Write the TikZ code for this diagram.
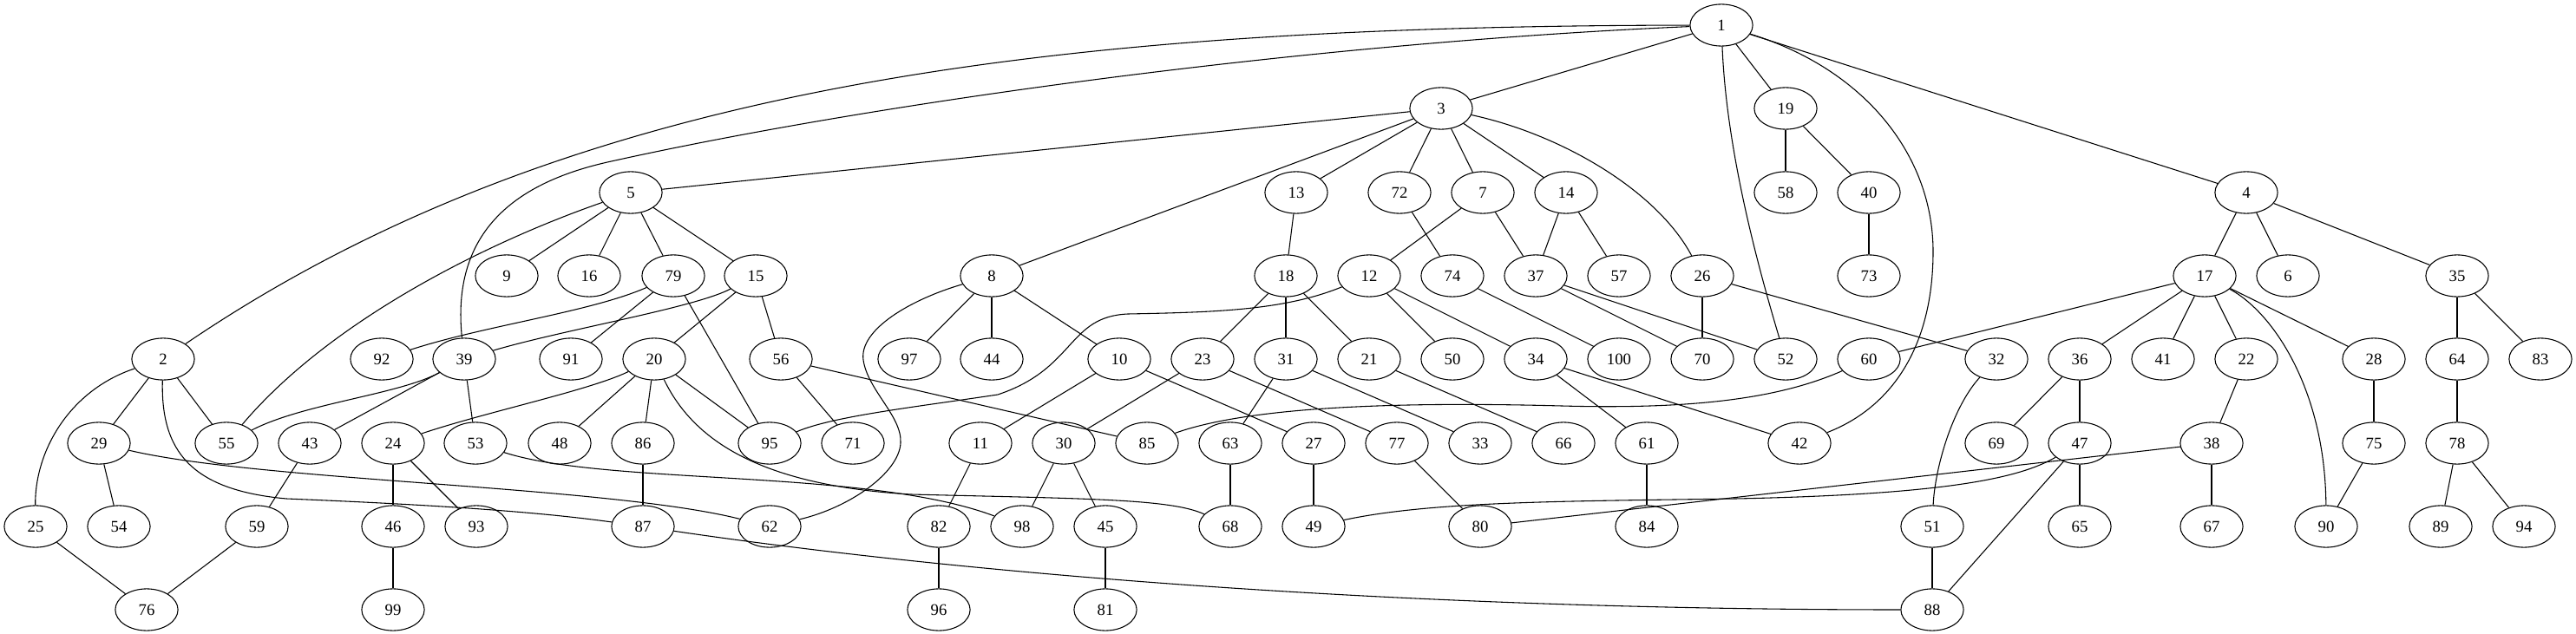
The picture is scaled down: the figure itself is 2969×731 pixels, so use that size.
\documentclass[tikz,border=0pt]{standalone}
\usepackage{fontspec}
\setmainfont{Liberation Serif}
\usetikzlibrary{shapes.geometric}
\begin{document}
\begin{tikzpicture}[x=0.74766pt,y=-0.74766pt,
  vtx/.style={ellipse,draw,line width=0.8pt,minimum width=54pt,minimum height=36pt,inner sep=0pt,font=\fontsize{14}{16}\selectfont},
  edge/.style={line width=0.8pt}]
\useasboundingbox (0,0) rectangle (2969,731);
% row 0
\node[vtx] (n1) at (1984,29) {1};
% row 1
\foreach \n/\x in {3/1661,19/2058} \node[vtx] (n\n) at (\x,125) {\n};
% row 2
\foreach \n/\x in {5/727,13/1494,72/1613,7/1709,14/1805,58/2058,40/2154,4/2589} \node[vtx] (n\n) at (\x,222) {\n};
% row 3
\foreach \n/\x in {9/584,16/679,79/776,15/871,8/1143,18/1482,12/1578,74/1674,37/1770,57/1866,26/1962,73/2154,17/2541,6/2637,35/2832} \node[vtx] (n\n) at (\x,318) {\n};
% row 4
\foreach \n/\x in {2/188,92/440,39/535,91/658,20/754,56/900,97/1048,44/1143,10/1290,23/1386,31/1482,21/1578,50/1674,34/1770,100/1866,70/1962,52/2058,60/2154,32/2301,36/2397,41/2493,22/2589,28/2736,64/2832,83/2928} \node[vtx] (n\n) at (\x,414) {\n};
% row 5
\foreach \n/\x in {29/114,55/261,43/357,24/453,53/548,48/645,86/741,95/887,71/983,11/1130,30/1226,85/1322,63/1418,27/1514,77/1610,33/1706,66/1802,61/1898,42/2074,69/2301,47/2397,38/2549,75/2736,78/2832} \node[vtx] (n\n) at (\x,511) {\n};
% row 6
\foreach \n/\x in {25/41,54/137,59/296,46/453,93/549,87/741,62/887,82/1082,98/1178,45/1274,68/1418,49/1514,80/1706,84/1898,51/2227,65/2397,67/2549,90/2681,89/2813,94/2909} \node[vtx] (n\n) at (\x,607) {\n};
% row 7
\foreach \n/\x in {76/169,99/453,96/1082,81/1274,88/2227} \node[vtx] (n\n) at (\x,703) {\n};
% straight edges
\foreach \a/\b in {1/3,1/19,1/4,3/5,3/8,3/13,3/72,3/7,3/14,19/58,19/40,40/73,
  5/9,5/16,5/79,5/15,79/91,79/95,15/20,15/56,13/18,18/23,18/31,18/21,
  7/12,7/37,72/74,14/37,14/57,12/50,12/34,74/100,37/70,37/52,26/70,26/32,
  4/17,4/6,4/35,17/60,17/36,17/41,17/22,17/28,35/64,35/83,64/78,78/89,78/94,
  28/75,75/90,22/38,38/67,36/69,36/47,47/65,47/88,51/88,
  8/97,8/44,8/10,10/11,10/27,23/30,23/77,31/63,31/33,21/66,34/61,34/42,77/80,
  61/84,27/49,63/68,30/98,30/45,11/82,82/96,45/81,2/29,2/55,29/54,39/43,39/53,
  43/59,59/76,25/76,24/46,24/93,46/99,20/48,20/86,20/95,86/87,56/71,56/85,38/80}
  \draw[edge] (n\a) -- (n\b);
% curved edges
\draw[edge] (n1) .. controls (1200,30) and (650,100) .. (n2);
\draw[edge] (n1) .. controls (1500,50) and (1000,120) .. (700,187) .. controls (590,212) and (520,270) .. (n39);
\draw[edge] (n1) .. controls (1990,180) and (2030,320) .. (n52);
\draw[edge] (n1) .. controls (2150,80) and (2228,180) .. (2228,290) .. controls (2228,400) and (2180,470) .. (n42);
\draw[edge] (n3) .. controls (1800,155) and (1910,220) .. (n26);
\draw[edge] (n5) .. controls (560,280) and (380,370) .. (n55);
\draw[edge] (n79) .. controls (680,360) and (560,375) .. (n92);
\draw[edge] (n15) .. controls (800,355) and (650,380) .. (n39);
\draw[edge] (n39) .. controls (460,455) and (350,465) .. (n55);
\draw[edge] (n20) .. controls (680,450) and (560,475) .. (n24);
\draw[edge] (n20) .. controls (800,510) and (880,560) .. (1050,570) .. controls (1250,575) and (1350,575) .. (n68);
\draw[edge] (n53) .. controls (700,560) and (1000,540) .. (n98);
\draw[edge] (n29) .. controls (300,555) and (700,560) .. (n62);
\draw[edge] (n2) .. controls (185,520) and (220,565) .. (330,575) .. controls (500,582) and (620,590) .. (n87);
\draw[edge] (n2) .. controls (80,450) and (40,520) .. (n25);
\draw[edge] (n12) .. controls (1480,358) and (1400,360) .. (1300,362) .. controls (1230,365) and (1240,425) .. (1150,455) .. controls (1050,470) and (960,480) .. (n95);
\draw[edge] (n8) .. controls (1050,345) and (990,380) .. (995,415) .. controls (1000,450) and (1040,480) .. (1038,511) .. controls (1036,545) and (980,585) .. (n62);
\draw[edge] (n60) .. controls (2050,460) and (1950,472) .. (1800,468) .. controls (1650,464) and (1450,465) .. (n85);
\draw[edge] (n17) .. controls (2620,360) and (2680,450) .. (n90);
\draw[edge] (n47) .. controls (2330,550) and (2250,570) .. (2000,575) .. controls (1800,578) and (1650,578) .. (n49);
\draw[edge] (n87) .. controls (1100,660) and (1600,703) .. (n88);
\draw[edge] (n32) .. controls (2250,470) and (2230,540) .. (n51);
\end{tikzpicture}
\end{document}
